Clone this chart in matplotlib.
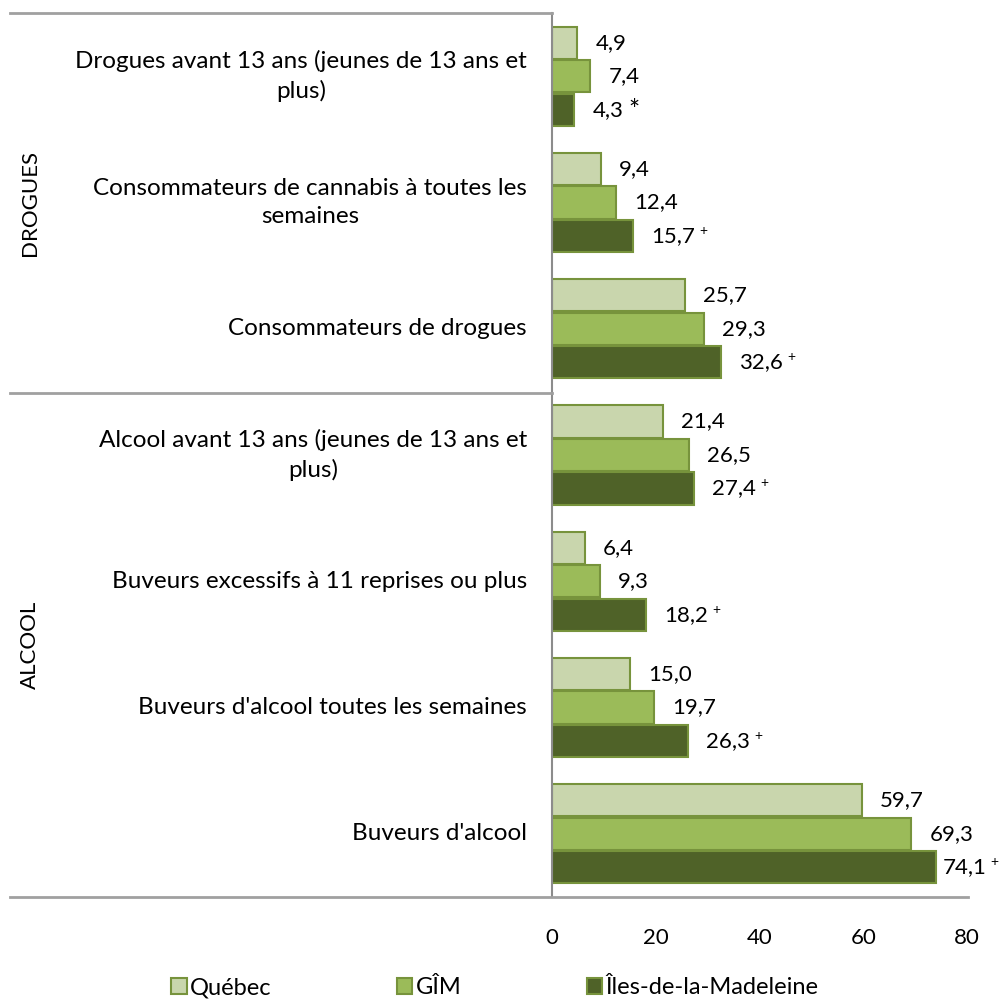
import numpy as np
import matplotlib.pyplot as plt
from matplotlib.lines import Line2D

plt.rcParams['font.family'] = ['Lato', 'DejaVu Sans']

# Data (top to bottom)
categories = [
    "Drogues avant 13 ans (jeunes de 13 ans et\nplus)",
    "Consommateurs de cannabis à toutes les\nsemaines",
    "Consommateurs de drogues",
    "Alcool avant 13 ans (jeunes de 13 ans et\nplus)",
    "Buveurs excessifs à 11 reprises ou plus",
    "Buveurs d'alcool toutes les semaines",
    "Buveurs d'alcool",
]
quebec = [4.9, 9.4, 25.7, 21.4, 6.4, 15.0, 59.7]
gim = [7.4, 12.4, 29.3, 26.5, 9.3, 19.7, 69.3]
idlm = [4.3, 15.7, 32.6, 27.4, 18.2, 26.3, 74.1]
idlm_marks = ["*", "+", "+", "+", "+", "+", "+"]
series_names = ["Québec", "GÎM", "Îles-de-la-Madeleine"]
groups = ["DROGUES", "ALCOOL"]

colors = ["#c9d6ad", "#9bbb59", "#4f6228"]
edge = "#77933c"

fig = plt.figure(figsize=(10, 10), dpi=100)
ax = fig.add_axes([0.552, 0.103, 0.415, 0.884])
ax.set_xlim(0, 80)
ax.set_ylim(len(categories) - 0.5, -0.5)

y = np.arange(len(categories))
h = 0.255
step = 0.265
for i, (vals, c) in enumerate(zip([quebec, gim, idlm], colors)):
    ax.barh(y + (i - 1) * step, vals, height=h, color=c, edgecolor=edge, linewidth=1.5,
            label=series_names[i])
    for k, (yy, v) in enumerate(zip(y, vals)):
        txt = f"{v:.1f}".replace(".", ",")
        off = 18 if v < 70 else 6
        t = ax.annotate(txt, (v, yy + (i - 1) * step), xytext=(off, 0),
                        textcoords="offset pixels", va="center", ha="left",
                        fontsize=16, annotation_clip=False)
        if i == 2:
            m = idlm_marks[k]
            if m == "*":
                ax.annotate("*", xy=(1, 0.5), xycoords=t, xytext=(5, -2),
                            textcoords="offset pixels", va="center", ha="left",
                            fontsize=19)
            else:
                ax.annotate("+", xy=(1, 0.5), xycoords=t, xytext=(4, 5),
                            textcoords="offset pixels", va="center", ha="left",
                            fontsize=10)

ax.set_xticks([0, 20, 40, 60, 80])
ax.tick_params(axis="x", length=0, labelsize=16, pad=22)
ax.set_yticks([])
for s in ["top", "right", "bottom"]:
    ax.spines[s].set_visible(False)
ax.spines["left"].set_color("#8c8c8c")
ax.spines["left"].set_linewidth(1.5)

# category labels
for yy, cat in zip(y, categories):
    ax.annotate(cat, (0, yy), xytext=(-25, 0), textcoords="offset pixels",
                ha="right", va="center", multialignment="center", fontsize=17.5,
                linespacing=1.45, annotation_clip=False)

# group separators
gray = "#a0a0a0"
for yf in [0.987, 1 - 0.393]:
    fig.add_artist(Line2D([0.01, 0.552], [yf, yf], color=gray, lw=2))
fig.add_artist(Line2D([0.01, 0.968], [0.103, 0.103], color=gray, lw=2))

fig.text(0.03, 1 - 0.203, groups[0], rotation=90, ha="center", va="center", fontsize=16)
fig.text(0.03, 1 - 0.645, groups[1], rotation=90, ha="center", va="center", fontsize=16)

fig.legend(loc="center", bbox_to_anchor=(0.495, 0.012), ncol=3, frameon=False, fontsize=17,
           handlelength=0.65, handleheight=0.65, handletextpad=0.15, columnspacing=5.3)

fig.savefig("out.png", dpi=100)
